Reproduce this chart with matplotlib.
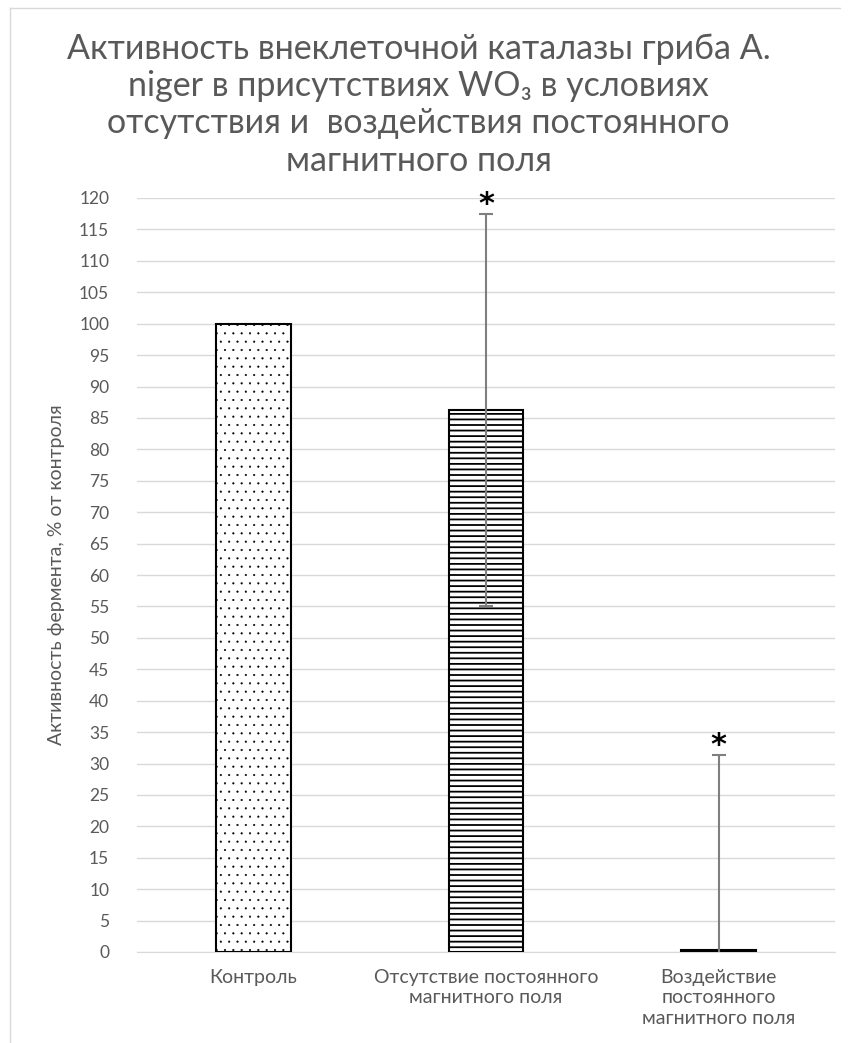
import matplotlib
matplotlib.use("Agg")
import matplotlib.pyplot as plt
from matplotlib.lines import Line2D

plt.rcParams['font.family'] = ['Lato', 'DejaVu Sans']

# данные
categories = ['Контроль', 'Отсутствие постоянного\nмагнитного поля',
              'Воздействие\nпостоянного\nмагнитного поля']
values = [100, 86.3, 0.3]
errors = [0, 31.2, 31.0]
hatches = ['..', '---', '']
hatch_lw = [0.3, 1.3, 1.0]
stars = ['', '*', '*']
y_ticks = list(range(0, 121, 5))

title = ('Активность внеклеточной каталазы гриба А.\n'
         'niger в присутствиях WO₃ в условиях\n'
         'отсутствия и  воздействия постоянного\n'
         'магнитного поля')

W, H = 849, 1043
fig = plt.figure(figsize=(W / 100, H / 100), dpi=100)
ax = fig.add_axes([137 / W, 1 - 952 / H, (835 - 137) / W, (952 - 198) / H])

x = list(range(len(categories)))
bars = []
for xi, v, h, lw in zip(x, values, hatches, hatch_lw):
    with plt.rc_context({'hatch.linewidth': lw}):
        b = ax.bar(xi, v, width=0.32, color='white', edgecolor='black',
                   linewidth=1.5, hatch=h, zorder=3)[0]
        if hasattr(b, 'set_hatch_linewidth'):
            b.set_hatch_linewidth(lw)
    bars.append(b)

for xi, v, e in zip(x, values, errors):
    if e > 0:
        ax.errorbar(xi, v, yerr=e, color='#7f7f7f', elinewidth=1.5,
                    capsize=4.7, capthick=1.5, zorder=4)

for xi, v, e, s in zip(x, values, errors, stars):
    if s:
        ax.text(xi, v + e - 0.8, s, ha='center', va='bottom', fontsize=22,
                fontweight='bold', color='black', clip_on=False, zorder=5,
                family='DejaVu Sans')

ax.set_xlim(-0.5, 2.5)
ax.set_ylim(0, 120)
ax.set_yticks(y_ticks)
ax.set_xticks(x)
ax.set_xticklabels(categories, fontsize=14, color='#595959', linespacing=1.27)
ax.tick_params(axis='y', length=0, pad=20, labelsize=12.5, labelcolor='#595959')
ax.tick_params(axis='x', length=0, pad=12)
ax.grid(axis='y', color='#d9d9d9', linewidth=1, zorder=0)
for sp in ['top', 'right', 'left']:
    ax.spines[sp].set_visible(False)
ax.spines['bottom'].set_color('#d9d9d9')
ax.spines['bottom'].set_zorder(1)

ax.set_ylabel('Активность фермента, % от контроля', fontsize=14,
              color='#595959', labelpad=10)

fig.text(0.493, 1 - 33 / H, title, ha='center', va='top', fontsize=24.5,
         color='#595959', linespacing=1.2)

# рамка
fig.add_artist(Line2D([10 / W, 840 / W], [1 - 8 / H, 1 - 8 / H],
                      color='#d9d9d9', linewidth=1))
fig.add_artist(Line2D([10 / W, 10 / W], [0, 1 - 8 / H],
                      color='#d9d9d9', linewidth=1))

fig.savefig('out.png', dpi=100)
